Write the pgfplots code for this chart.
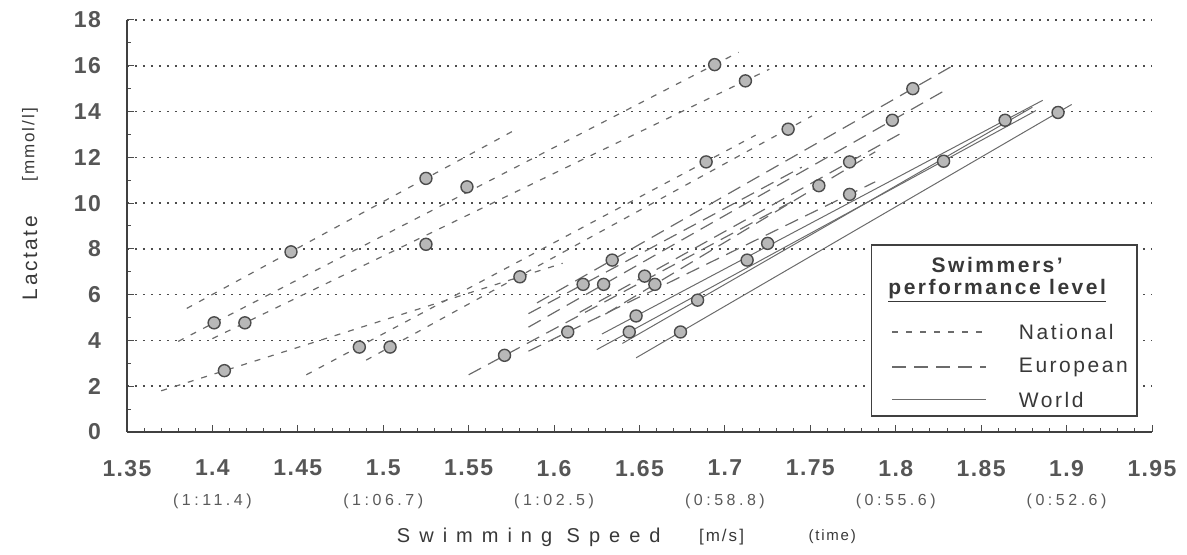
\documentclass[border=0pt]{standalone}
\usepackage{pgfplots}
\pgfplotsset{compat=1.18}
\usepackage{fontspec}
\setmainfont{Liberation Sans}
\newfontfamily\spaced[LetterSpace=12]{Liberation Sans}
\newfontfamily\tickf[LetterSpace=6]{Liberation Sans}
\newfontfamily\timef[LetterSpace=22]{Liberation Sans}
\newfontfamily\wide[LetterSpace=45]{Liberation Sans}
\definecolor{ink}{gray}{0.22}
\definecolor{ln}{gray}{0.42}
\tikzset{
  national/.style={ln, line width=0.6pt, dash pattern=on 3pt off 4pt},
  european/.style={ln, line width=0.6pt, dash pattern=on 7pt off 4pt},
  world/.style={ln, line width=0.5pt},
  timelab/.style={font=\timef\fontsize{8}{9}\selectfont, text=black!65, yshift=-34.5pt},
}
\begin{document}
\begin{tikzpicture}
\path (-63.5pt,-61.5pt) rectangle (530pt,216pt);
\begin{axis}[
  at={(0,0)}, anchor=south west,
  width=512.5pt, height=206pt, scale only axis,
  xmin=1.35, xmax=1.95, ymin=0, ymax=18,
  axis x line*=bottom, axis y line*=left,
  axis line style={-, black!75, line width=0.8pt},
  xtick={1.35,1.40,1.45,1.50,1.55,1.60,1.65,1.70,1.75,1.80,1.85,1.90,1.95},
  xticklabels={1.35,1.4,1.45,1.5,1.55,1.6,1.65,1.7,1.75,1.8,1.85,1.9,1.95},
  ytick={0,2,4,6,8,10,12,14,16,18},
  yticklabels={0,2,4,6,8,10,12,14,16,18},
  minor x tick num=4, minor y tick num=1,
  tick align=inside,
  major tick length=3.5pt, minor tick length=2pt,
  every tick/.style={black!70, line width=0.5pt},
  ymajorgrids,
  grid style={black!70, line width=0.8pt, dash pattern=on 0.8pt off 3.2pt},
  xticklabel style={font=\tickf\bfseries\fontsize{11.5}{13}\selectfont, text=ink!85, yshift=-10.5pt},
  yticklabel style={font=\tickf\bfseries\fontsize{11.5}{13}\selectfont, text=ink!85, xshift=-9.5pt},
  clip=false,
]
% National
\addplot[national] coordinates {(1.385,5.40) (1.576,13.15)};
\addplot[national] coordinates {(1.380,3.96) (1.708,16.59)};
\addplot[national] coordinates {(1.400,4.08) (1.726,15.85)};
\addplot[national] coordinates {(1.370,1.80) (1.605,7.37)};
\addplot[national] coordinates {(1.455,2.50) (1.718,12.97)};
\addplot[national] coordinates {(1.490,3.14) (1.751,13.81)};
% European
\addplot[european] coordinates {(1.590,5.64) (1.835,16.07)};
\addplot[european] coordinates {(1.585,4.58) (1.828,14.89)};
\addplot[european] coordinates {(1.615,5.23) (1.806,13.17)};
\addplot[european] coordinates {(1.585,5.17) (1.745,11.57)};
\addplot[european] coordinates {(1.630,5.15) (1.788,12.24)};
\addplot[european] coordinates {(1.585,3.53) (1.788,10.93)};
\addplot[european] coordinates {(1.550,2.50) (1.740,10.10)};
% World
\addplot[world] coordinates {(1.628,4.28) (1.886,14.49)};
\addplot[world] coordinates {(1.625,3.60) (1.882,14.04)};
\addplot[world] coordinates {(1.640,3.87) (1.880,14.19)};
\addplot[world] coordinates {(1.648,3.24) (1.903,14.31)};
% measured points
\addplot[only marks, mark=*, mark size=3pt, mark options={draw=black!70, fill=black!28, line width=0.7pt}] coordinates {
(1.401,4.77) (1.419,4.77) (1.407,2.68) (1.446,7.87) (1.486,3.71) (1.504,3.71)
(1.525,11.08) (1.549,10.71) (1.525,8.20) (1.571,3.35) (1.580,6.78) (1.608,4.37)
(1.617,6.45) (1.629,6.45) (1.634,7.51) (1.644,4.37) (1.648,5.07) (1.653,6.81)
(1.659,6.45) (1.674,4.37) (1.684,5.76) (1.689,11.80) (1.694,16.05) (1.712,15.34)
(1.713,7.51) (1.725,8.24) (1.737,13.23) (1.755,10.76) (1.773,11.80) (1.773,10.38)
(1.798,13.62) (1.810,15.00) (1.828,11.83) (1.864,13.62) (1.895,13.96)};
% legend
\draw[fill=white, draw=black!75, line width=0.8pt] (axis cs:1.7857,0.70) rectangle (axis cs:1.9412,8.17);
\node[font=\spaced\bfseries\fontsize{10.5}{12}\selectfont, text=ink] at (axis cs:1.8594,7.29) {Swimmers’};
\node[font=\spaced\bfseries\fontsize{10.5}{12}\selectfont, text=ink] at (axis cs:1.8594,6.15) {\underline{performance level}};
\draw[national] (axis cs:1.798,4.37) -- (axis cs:1.853,4.37);
\draw[european] (axis cs:1.798,2.84) -- (axis cs:1.853,2.84);
\draw[world] (axis cs:1.798,1.40) -- (axis cs:1.853,1.40);
\node[anchor=west, font=\spaced\fontsize{10.5}{12}\selectfont, text=ink] at (axis cs:1.8680,4.37) {National};
\node[anchor=west, font=\spaced\fontsize{10.5}{12}\selectfont, text=ink] at (axis cs:1.8680,2.84) {European};
\node[anchor=west, font=\spaced\fontsize{10.5}{12}\selectfont, text=ink] at (axis cs:1.8680,1.40) {World};
% times
\node[timelab] at (axis cs:1.4,0) {(1:11.4)};
\node[timelab] at (axis cs:1.5,0) {(1:06.7)};
\node[timelab] at (axis cs:1.6,0) {(1:02.5)};
\node[timelab] at (axis cs:1.7,0) {(0:58.8)};
\node[timelab] at (axis cs:1.8,0) {(0:55.6)};
\node[timelab] at (axis cs:1.9,0) {(0:52.6)};
% axis titles
\node[font=\wide\fontsize{10}{12}\selectfont, text=ink, yshift=-52.5pt] at (rel axis cs:0.392,0) {Swimming Speed};
\node[font=\spaced\fontsize{8.5}{10}\selectfont, text=ink, yshift=-52.5pt] at (rel axis cs:0.580,0) {[m/s]};
\node[font=\spaced\fontsize{7.5}{9}\selectfont, text=ink, yshift=-52.5pt] at (rel axis cs:0.688,0) {(time)};
\node[rotate=90, font=\spaced\fontsize{10.5}{12}\selectfont, text=ink] at (rel axis cs:-0.0946,0.4223) {Lactate};
\node[rotate=90, font=\spaced\fontsize{8.5}{10}\selectfont, text=ink] at (rel axis cs:-0.0946,0.697) {[mmol/l]};
\end{axis}
\end{tikzpicture}
\end{document}
